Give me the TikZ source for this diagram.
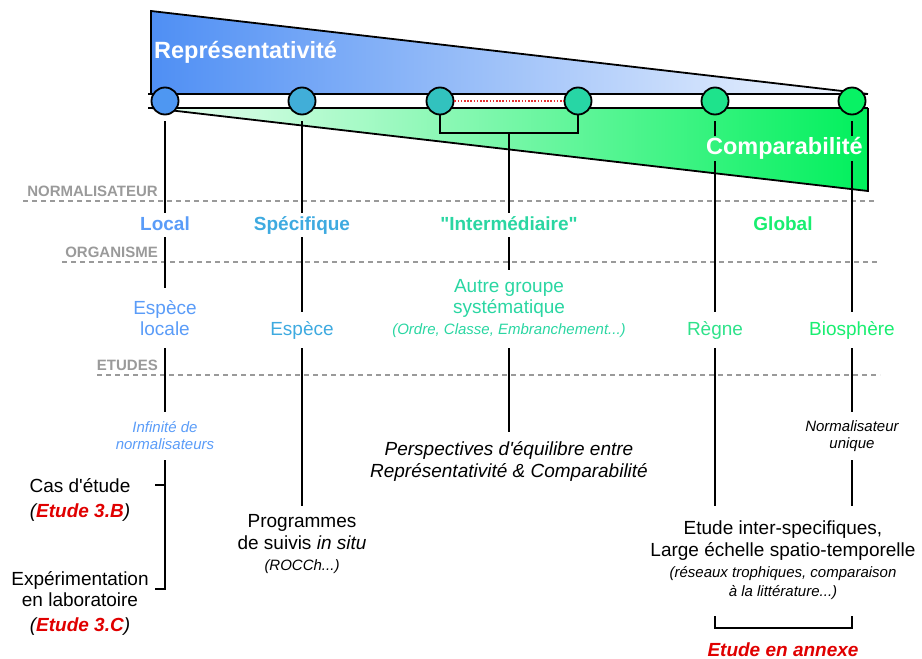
\documentclass[tikz,border=0pt]{standalone}
\usepackage{fontspec}
\setmainfont{Liberation Sans}[Ligatures=TeXOff]
\usepackage{tikz}

\definecolor{repBleu}{HTML}{4F8FF4}
\definecolor{compVert}{HTML}{00F05C}
\definecolor{ptA}{HTML}{4E97F2}
\definecolor{ptB}{HTML}{41AED8}
\definecolor{ptC}{HTML}{32C2BE}
\definecolor{ptD}{HTML}{27D6A5}
\definecolor{ptE}{HTML}{1EE38C}
\definecolor{ptF}{HTML}{08F264}
\definecolor{txtA}{HTML}{5A9CF8}
\definecolor{txtB}{HTML}{3EAAE0}
\definecolor{txtC}{HTML}{2AD6A2}
\definecolor{txtD}{HTML}{2EE28A}
\definecolor{txtE}{HTML}{18EE70}
\definecolor{gris}{HTML}{9A9A9A}
\definecolor{rouge}{HTML}{E00000}

\begin{document}
\begin{tikzpicture}[x=1pt,y=-1pt,
  pastille/.style={circle,draw,line width=1.8pt,minimum size=27pt,inner sep=0pt},
  trait/.style={line width=2.4pt},
  tirets/.style={gris,line width=1.2pt,dash pattern=on 5pt off 4pt},
  categorie/.style={gris,font=\bfseries\fontsize{15}{17}\selectfont,inner sep=0pt},
  niveau/.style={font=\bfseries\fontsize{19}{21}\selectfont,inner xsep=0pt,inner ysep=3pt,text height=14pt,text depth=4pt},
  organisme/.style={font=\fontsize{19}{21}\selectfont,align=center,inner sep=0pt},
  petit/.style={font=\itshape\fontsize{15}{17}\selectfont,align=center,inner sep=0pt},
  texte/.style={font=\fontsize{19}{21.5}\selectfont,align=center,inner sep=0pt}]
\useasboundingbox (0,0) rectangle (922,659);

% les deux bandes
\shade[left color=repBleu,right color=repBleu!6] (151,11) -- (868,94) -- (151,94) -- cycle;
\shade[left color=compVert!8,right color=compVert] (151,108) -- (868,191) -- (868,108) -- cycle;
\fill[white] (151,94) rectangle (868,108);
\draw[line width=1.8pt] (151,94) -- (151,11) -- (868,94);
\draw[line width=1.8pt] (148,94) -- (868,94) (148,108) -- (868,108);
\draw[line width=1.8pt] (151,108) -- (868,191) -- (868,108);

\node[white,font=\bfseries\fontsize{23.5}{25}\selectfont,anchor=base west,inner sep=0pt] (repr) at (154,58) {Représentativité};
\node[white,font=\bfseries\fontsize{23.5}{25}\selectfont,anchor=east,inner xsep=0pt,inner ysep=2pt,text height=16pt,text depth=5pt] (comp) at (863,148.5) {Comparabilité};

% echelle
\node[pastille,fill=ptA] (c1) at (165,101) {};
\node[pastille,fill=ptB] (c2) at (302,101) {};
\node[pastille,fill=ptC] (c3) at (440,101) {};
\node[pastille,fill=ptD] (c4) at (578,101) {};
\node[pastille,fill=ptE] (c5) at (715,101) {};
\node[pastille,fill=ptF] (c6) at (852,101) {};
\draw[rouge!80,line width=1.3pt,dash pattern=on 1.6pt off 1.6pt] (c3) -- (c4);

% lignes grises
\node[categorie,anchor=base east] (normal) at (158,196) {NORMALISATEUR};
\node[categorie,anchor=base east] (organ) at (158,257) {ORGANISME};
\node[categorie,anchor=base east] (etudes) at (158,370) {ETUDES};
\draw[tirets] (23,201) -- (875,201);
\draw[tirets] (62,262) -- (880,262);
\draw[tirets] (97,375) -- (880,375);

% niveaux
\node[niveau,text=txtA] (local) at (165,225) {Local};
\node[niveau,text=txtB] (spec) at (302,225) {Spécifique};
\node[niveau,text=txtC] (inter) at (509,225) {"Intermédiaire"};
\node[niveau,text=txtE] (global) at (783,225) {Global};

% organismes
\node[organisme,text=txtA,minimum height=60pt] (espl) at (165,318) {Espèce\\locale};
\node[organisme,text=txtB,minimum height=36pt] (esp) at (302,330) {Espèce};
\node[organisme,text=txtC,minimum height=78pt] (autre) at (509,309)
  {Autre groupe\\systématique\\{\itshape\fontsize{15}{17}\selectfont(Ordre, Classe, Embranchement...)}};
\node[organisme,text=txtD,minimum height=36pt] (regne) at (715,330) {Règne};
\node[organisme,text=txtE,minimum height=36pt] (bio) at (852,330) {Biosphère};

% etudes
\node[petit,text=txtA,minimum height=48pt] (infini) at (165,436) {Infinité de\\normalisateurs};
\node[petit,minimum height=48pt] (unique) at (852,436) {Normalisateur\\unique};
\node[texte,font=\itshape\fontsize{19}{22}\selectfont,minimum height=58pt] (persp) at (509,461)
  {Perspectives d'équilibre entre\\Représentativité \& Comparabilité};
\node[texte,minimum height=77pt] (prog) at (302,544.5)
  {Programmes\\de suivis \textit{in situ}\\{\itshape\fontsize{15}{17}\selectfont(ROCCh...)}};
\node[texte,minimum height=109pt] (interspec) at (783,560.5)
  {Etude inter-specifiques,\\Large échelle spatio-temporelle\\
  {\itshape\fontsize{15}{17}\selectfont(réseaux trophiques, comparaison}\\[-2.5pt]
  {\itshape\fontsize{15}{17}\selectfont à la littérature...)}};
\node[texte] (cas) at (80,499.5) {Cas d'étude\\[3.5pt]\textit{(\textcolor{rouge}{\bfseries Etude 3.B})}};
\node[texte] (labo) at (80,603.5) {Expérimentation\\en laboratoire\\[3.5pt]\textit{(\textcolor{rouge}{\bfseries Etude 3.C})}};
\node[rouge,font=\bfseries\itshape\fontsize{19}{21}\selectfont,anchor=base,inner sep=0pt] (annexe) at (783,656) {Etude en annexe};

% traits verticaux
\coordinate (casA) at (155,485);
\coordinate (finA) at (155,589);
\draw[trait,shorten <=6pt] (c1) -- (local);
\draw[trait] (local) -- (espl) -- (infini);
\draw[trait] (infini) |- (finA);
\draw[trait] (casA) -- (casA -| infini);

\draw[trait,shorten <=6pt] (c2) -- (spec);
\draw[trait] (spec) -- (esp) -- (prog);

\coordinate (brk) at (509,133);
\draw[trait] (c3) |- (brk) -| (c4);
\draw[trait] (brk) -- (inter) -- (autre) -- (persp);

\draw[trait,shorten <=6pt] (c5) -- (comp.north -| c5);
\draw[trait] (comp.south -| c5) -- (regne) -- (regne |- interspec.north);
\draw[trait,shorten <=6pt] (c6) -- (comp.north -| c6);
\draw[trait] (comp.south -| c6) -- (bio) -- (unique) -- (unique |- interspec.north);

\coordinate (annexeG) at (715,616);
\coordinate (annexeD) at (852,616);
\draw[trait] (annexeG) -- ++(0,12) -| (annexeD);
\end{tikzpicture}
\end{document}
